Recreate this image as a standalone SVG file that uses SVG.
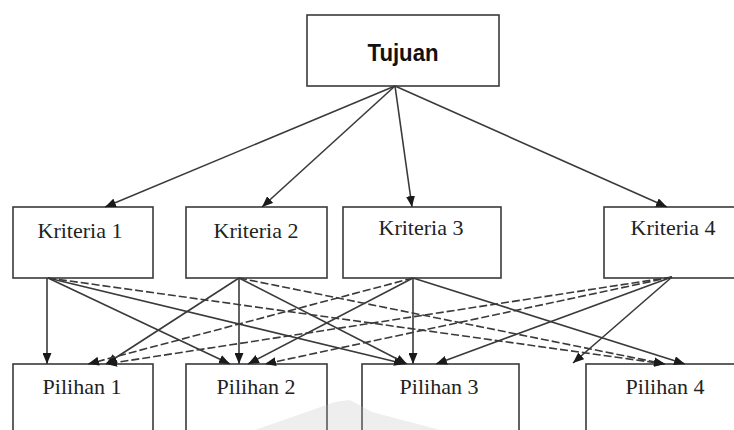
<svg xmlns="http://www.w3.org/2000/svg" width="734" height="430" viewBox="0 0 734 430">
<style>
.box{fill:#fff;stroke:#3a3a3a;stroke-width:1.6}
.lbl{font-family:"Liberation Serif","Times New Roman",serif;font-size:22px;fill:#222;text-anchor:middle}
.title{font-family:"Liberation Sans",Arial,sans-serif;font-size:23px;font-weight:bold;fill:#111;text-anchor:middle}
.c{fill:none;stroke:#3a3a3a;stroke-width:1.6;marker-end:url(#ah)}
.d{stroke-dasharray:8 3}
</style>
<defs>
<marker id="ah" markerUnits="userSpaceOnUse" markerWidth="11" markerHeight="9" refX="11" refY="4.5" orient="auto">
<path d="M0,0 L11,4.5 L0,9 z" fill="#1a1a1a"/>
</marker>
</defs>
<rect width="734" height="430" fill="#fff"/>
<g id="tujuan"><rect class="box" x="307" y="15" width="192" height="71"/><text class="title" x="403" y="61" textLength="71" lengthAdjust="spacingAndGlyphs">Tujuan</text></g>
<g id="kriteria1"><rect class="box" x="13" y="207" width="140" height="71"/><text class="lbl" x="80" y="238">Kriteria 1</text></g>
<g id="kriteria2"><rect class="box" x="186" y="207" width="141" height="71"/><text class="lbl" x="256" y="238">Kriteria 2</text></g>
<g id="kriteria3"><rect class="box" x="343" y="207" width="158" height="71"/><text class="lbl" x="421" y="235">Kriteria 3</text></g>
<g id="kriteria4"><rect class="box" x="604" y="207" width="140" height="71"/><text class="lbl" x="673" y="235">Kriteria 4</text></g>
<g id="pilihan1"><rect class="box" x="13" y="364" width="140" height="80"/><text class="lbl" x="82" y="394">Pilihan 1</text></g>
<g id="pilihan2"><rect class="box" x="186" y="364" width="141" height="80"/><text class="lbl" x="256" y="394">Pilihan 2</text></g>
<g id="pilihan3"><rect class="box" x="362" y="364" width="157" height="80"/><text class="lbl" x="439" y="394">Pilihan 3</text></g>
<g id="pilihan4"><rect class="box" x="586" y="364" width="158" height="80"/><text class="lbl" x="665" y="394">Pilihan 4</text></g>
<g id="connectors">
<line class="c" x1="395" y1="86" x2="105" y2="207"/>
<line class="c" x1="395" y1="86" x2="262" y2="207"/>
<line class="c" x1="395" y1="86" x2="412" y2="207"/>
<line class="c" x1="395" y1="86" x2="667" y2="207"/>
<line class="c" x1="47" y1="278" x2="47" y2="364"/>
<line class="c" x1="48" y1="278" x2="230" y2="364"/>
<line class="c" x1="48" y1="278" x2="405" y2="364"/>
<line class="c d" x1="48" y1="278" x2="665" y2="364"/>
<line class="c" x1="239" y1="278" x2="106" y2="364"/>
<line class="c" x1="239" y1="278" x2="239" y2="364"/>
<line class="c" x1="239" y1="278" x2="407" y2="364"/>
<line class="c d" x1="239" y1="278" x2="665" y2="364"/>
<line class="c d" x1="413" y1="278" x2="88" y2="364"/>
<line class="c" x1="413" y1="278" x2="248" y2="364"/>
<line class="c" x1="413" y1="278" x2="413" y2="364"/>
<line class="c" x1="413" y1="278" x2="685" y2="364"/>
<line class="c d" x1="672" y1="277" x2="106" y2="364"/>
<line class="c d" x1="672" y1="277" x2="265" y2="364"/>
<line class="c" x1="672" y1="277" x2="436" y2="364"/>
<line class="c" x1="672" y1="277" x2="573" y2="363"/>
</g>
<polygon points="255,430 335,402 350,400 372,412 440,430" fill="#bbb" opacity="0.25"/>
</svg>
